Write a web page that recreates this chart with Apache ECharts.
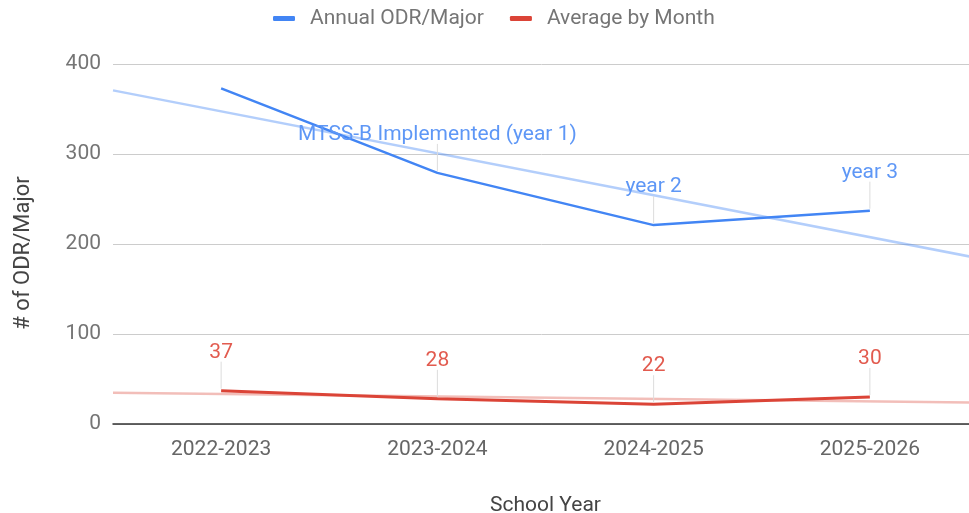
<!DOCTYPE html>
<html lang="en">
<head>
    <meta charset="UTF-8">
    <title>ODR/Major by School Year</title>
    <style>
        * { margin: 0; padding: 0; }
        html, body { width: 969px; height: 513px; background: #fff; overflow: hidden; }
        #chart { width: 969px; height: 513px; }
    </style>
</head>
<body>
    <div id="chart"></div>
    <script src="https://cdn.jsdelivr.net/npm/echarts@6/dist/echarts.min.js"></script>
    <script>
        var years = ['2022-2023', '2023-2024', '2024-2025', '2025-2026'];
        var annualOdr = [373, 279, 221, 237];
        var avgByMonth = [37, 28, 22, 30];
        // annotation text on the blue line (empty = none)
        var annualNotes = ['', 'MTSS-B Implemented (year 1)', 'year 2', 'year 3'];
        var yTicks = [0, 100, 200, 300, 400];

        var BLUE = '#4285f4';
        var RED = '#db4437';

        // least squares trend line, drawn across the whole plot (-0.5 .. n-0.5)
        function trend(vals) {
            var n = vals.length, mx = 0, my = 0;
            for (var i = 0; i < n; i++) { mx += i; my += vals[i]; }
            mx /= n; my /= n;
            var num = 0, den = 0;
            for (var j = 0; j < n; j++) {
                num += (j - mx) * (vals[j] - my);
                den += (j - mx) * (j - mx);
            }
            var k = num / den;
            var x0 = -0.5, x1 = n - 0.5;
            return [[x0, my + k * (x0 - mx)], [x1, my + k * (x1 - mx)]];
        }

        function noteData(vals, notes) {
            var out = [];
            for (var i = 0; i < vals.length; i++) {
                if (notes[i] !== '') out.push([i, vals[i], notes[i]]);
            }
            return out;
        }

        // thin stem + text above a point
        function noteSeries(vals, notes, color) {
            return {
                type: 'custom',
                xAxisIndex: 0,
                yAxisIndex: 0,
                silent: true,
                z: 5,
                data: noteData(vals, notes),
                renderItem: function (params, api) {
                    var p = api.coord([api.value(0), api.value(1)]);
                    return {
                        type: 'group',
                        children: [{
                            type: 'line',
                            shape: { x1: p[0], y1: p[1] - 2, x2: p[0], y2: p[1] - 29 },
                            style: { stroke: '#dcdcdc', lineWidth: 1 }
                        }, {
                            type: 'text',
                            style: {
                                x: p[0], y: p[1] - 38,
                                text: api.value(2),
                                fill: color,
                                font: '21px Roboto',
                                align: 'center',
                                verticalAlign: 'middle'
                            }
                        }]
                    };
                }
            };
        }

        var labels = [];
        for (var i = 0; i < avgByMonth.length; i++) labels.push(String(avgByMonth[i]));

        var chart = echarts.init(document.getElementById('chart'));
        var option = {
            animation: false,
            textStyle: { fontFamily: 'Roboto' },
            legend: {
                data: [
                    { name: 'Annual ODR/Major', itemStyle: { color: BLUE } },
                    { name: 'Average by Month', itemStyle: { color: RED } }
                ],
                padding: 0,
                top: 8,
                left: 273,
                icon: 'roundRect',
                itemWidth: 22,
                itemHeight: 5,
                itemGap: 26,
                textStyle: { color: '#757575', fontSize: 21, fontFamily: 'Roboto', padding: [0, 0, 0, 10] }
            },
            grid: { left: 113, width: 865, top: 64, bottom: 89, outerBoundsMode: 'none' },
            xAxis: [{
                type: 'category',
                data: years,
                boundaryGap: true,
                name: 'School Year',
                nameLocation: 'middle',
                nameGap: 71,
                nameTextStyle: { color: '#444', fontSize: 21 },
                axisLine: { lineStyle: { color: '#333', width: 1.5 } },
                axisTick: { show: false },
                axisLabel: { color: '#666', fontSize: 21, margin: 15 },
                splitLine: { show: false }
            }, {
                type: 'value',
                min: -0.5,
                max: years.length - 0.5,
                show: false
            }],
            yAxis: {
                type: 'value',
                min: yTicks[0],
                max: yTicks[yTicks.length - 1],
                interval: 100,
                name: '# of ODR/Major',
                nameLocation: 'middle',
                nameGap: 79,
                nameTextStyle: { color: '#444', fontSize: 22, padding: [0, 18, 0, 0] },
                axisLine: { show: false },
                axisTick: { show: false },
                axisLabel: { color: '#757575', fontSize: 21, margin: 12 },
                splitLine: { lineStyle: { color: '#cccccc', width: 1 } }
            },
            series: [{
                name: 'Annual ODR/Major trend',
                type: 'line',
                xAxisIndex: 1,
                data: trend(annualOdr),
                symbol: 'none',
                silent: true,
                lineStyle: { color: 'rgba(66,133,244,0.4)', width: 2.5 },
                z: 1
            }, {
                name: 'Average by Month trend',
                type: 'line',
                xAxisIndex: 1,
                data: trend(avgByMonth),
                symbol: 'none',
                silent: true,
                lineStyle: { color: 'rgba(219,68,55,0.35)', width: 2.5 },
                z: 1
            }, {
                name: 'Annual ODR/Major',
                type: 'line',
                data: annualOdr,
                symbol: 'none',
                color: BLUE,
                lineStyle: { color: BLUE, width: 2.5 },
                z: 3
            }, {
                name: 'Average by Month',
                type: 'line',
                data: avgByMonth,
                symbol: 'none',
                color: RED,
                lineStyle: { color: RED, width: 3 },
                z: 3
            },
            noteSeries(annualOdr, annualNotes, '#5e97f6'),
            noteSeries(avgByMonth, labels, '#e25b4f')]
        };
        chart.setOption(option);
    </script>
</body>
</html>
